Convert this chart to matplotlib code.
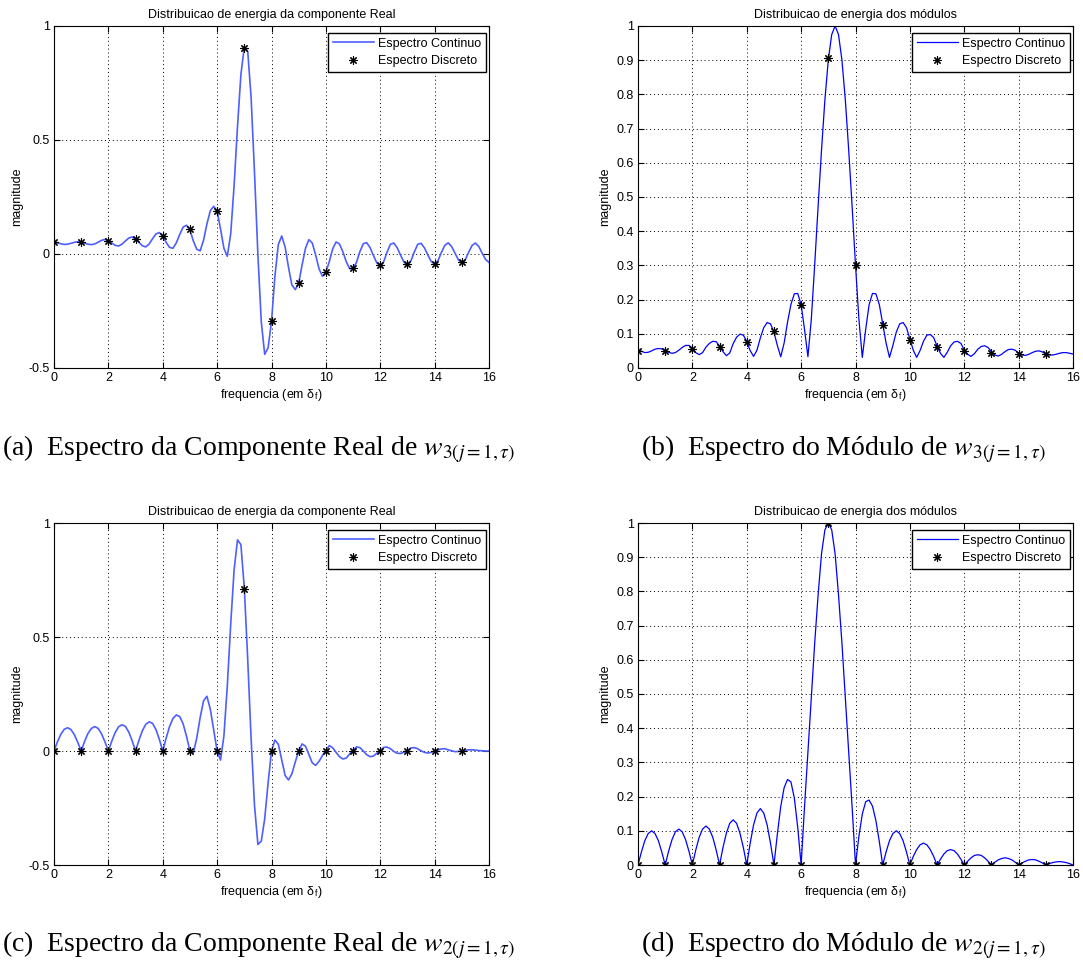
import numpy as np
import matplotlib
matplotlib.use("Agg")
import matplotlib.pyplot as plt

plt.rcParams['font.family'] = ['Liberation Sans', 'DejaVu Sans']
plt.rcParams['mathtext.fontset'] = 'stix'

# frequency grid of the continuous spectra (in units of delta f) and DFT bins
freq = np.arange(0, 16.0001, 0.125)
bins = np.arange(16)

# w3: real component, continuous spectrum
real_w3 = [
    0.051, 0.049, 0.045, 0.042, 0.043, 0.047, 0.051, 0.054,
    0.052, 0.048, 0.043, 0.041, 0.044, 0.052, 0.060, 0.064,
    0.059, 0.048, 0.038, 0.035, 0.043, 0.057, 0.070, 0.075,
    0.065, 0.051, 0.036, 0.031, 0.044, 0.067, 0.088, 0.094,
    0.079, 0.051, 0.029, 0.025, 0.049, 0.086, 0.118, 0.126,
    0.106, 0.057, 0.021, 0.014, 0.060, 0.132, 0.190, 0.209,
    0.188, 0.110, 0.025, -0.010, 0.089, 0.301, 0.560, 0.788,
    0.908, 0.890, 0.686, 0.357, -0.004, -0.299, -0.440, -0.411,
    -0.296, -0.098, 0.041, 0.079, 0.031, -0.058, -0.136, -0.156,
    -0.128, -0.048, 0.025, 0.063, 0.048, -0.005, -0.065, -0.098,
    -0.080, -0.034, 0.022, 0.053, 0.044, 0.010, -0.034, -0.064,
    -0.064, -0.037, 0.010, 0.045, 0.050, 0.028, -0.007, -0.039,
    -0.052, -0.034, 0.008, 0.043, 0.048, 0.027, -0.006, -0.036,
    -0.047, -0.031, 0.008, 0.042, 0.047, 0.027, -0.004, -0.033,
    -0.043, -0.029, 0.007, 0.038, 0.049, 0.033, 0.003, -0.026,
    -0.038, -0.026, 0.007, 0.037, 0.048, 0.033, 0.003, -0.024,
    -0.037,
]
real_w3_dft = [0.051, 0.052, 0.058, 0.064, 0.079, 0.108, 0.188, 0.905,
               -0.296, -0.128, -0.079, -0.061, -0.050, -0.045, -0.042, -0.036]

# w3: modulus, continuous spectrum
mod_w3 = [
    0.053, 0.049, 0.045, 0.046, 0.050, 0.055, 0.057, 0.056,
    0.052, 0.046, 0.043, 0.045, 0.052, 0.060, 0.066, 0.066,
    0.058, 0.045, 0.039, 0.045, 0.061, 0.072, 0.078, 0.077,
    0.064, 0.048, 0.036, 0.044, 0.071, 0.090, 0.099, 0.096,
    0.078, 0.051, 0.034, 0.052, 0.088, 0.118, 0.133, 0.129,
    0.105, 0.066, 0.033, 0.073, 0.134, 0.186, 0.217, 0.218,
    0.185, 0.113, 0.033, 0.143, 0.303, 0.473, 0.637, 0.785,
    0.901, 0.975, 1.000, 0.975, 0.901, 0.785, 0.637, 0.473,
    0.301, 0.143, 0.031, 0.113, 0.185, 0.218, 0.217, 0.186,
    0.130, 0.073, 0.031, 0.066, 0.105, 0.129, 0.133, 0.118,
    0.085, 0.052, 0.031, 0.051, 0.078, 0.096, 0.098, 0.089,
    0.064, 0.043, 0.031, 0.046, 0.065, 0.076, 0.078, 0.072,
    0.053, 0.040, 0.034, 0.042, 0.055, 0.063, 0.065, 0.060,
    0.048, 0.038, 0.035, 0.040, 0.048, 0.054, 0.055, 0.052,
    0.043, 0.038, 0.037, 0.040, 0.045, 0.049, 0.050, 0.047,
    0.041, 0.038, 0.038, 0.040, 0.043, 0.045, 0.045, 0.043,
    0.041,
]
mod_w3_dft = [0.050, 0.050, 0.055, 0.062, 0.077, 0.107, 0.185, 0.905,
              0.300, 0.127, 0.082, 0.062, 0.050, 0.045, 0.040, 0.040]

# w2: real component, continuous spectrum
real_w2 = [
    0.000, 0.040, 0.073, 0.095, 0.102, 0.094, 0.071, 0.038,
    0.000, 0.042, 0.077, 0.099, 0.107, 0.099, 0.075, 0.040,
    0.000, 0.043, 0.081, 0.106, 0.115, 0.108, 0.083, 0.045,
    0.000, 0.047, 0.089, 0.117, 0.128, 0.121, 0.094, 0.051,
    0.000, 0.056, 0.107, 0.143, 0.158, 0.151, 0.119, 0.064,
    0.000, -0.008, 0.056, 0.146, 0.220, 0.240, 0.183, 0.090,
    0.000, -0.040, 0.066, 0.287, 0.557, 0.795, 0.926, 0.905,
    0.714, 0.403, 0.054, -0.239, -0.410, -0.395, -0.297, -0.140,
    0.000, 0.048, 0.030, -0.038, -0.107, -0.127, -0.100, -0.048,
    0.000, 0.031, 0.021, -0.016, -0.052, -0.063, -0.045, -0.020,
    0.002, 0.024, 0.014, -0.006, -0.025, -0.035, -0.031, -0.013,
    0.002, 0.018, 0.015, 0.000, -0.016, -0.025, -0.022, -0.010,
    0.001, 0.016, 0.017, 0.010, -0.002, -0.010, -0.011, -0.005,
    0.002, 0.013, 0.015, 0.010, 0.001, -0.006, -0.009, -0.006,
    0.000, 0.005, 0.009, 0.010, 0.005, 0.001, -0.003, -0.002,
    0.000, 0.003, 0.005, 0.005, 0.004, 0.002, 0.001, 0.000,
    0.000,
]
real_w2_dft = [0, 0, 0, 0, 0, 0, 0, 0.712, 0, 0, 0, 0, 0, 0, 0, 0]

# w2: modulus, continuous spectrum
mod_w2 = [
    0.000, 0.038, 0.071, 0.092, 0.100, 0.092, 0.071, 0.038,
    0.000, 0.040, 0.074, 0.097, 0.105, 0.097, 0.074, 0.040,
    0.000, 0.044, 0.081, 0.105, 0.114, 0.105, 0.081, 0.044,
    0.000, 0.051, 0.093, 0.122, 0.132, 0.122, 0.093, 0.051,
    0.000, 0.063, 0.117, 0.152, 0.165, 0.152, 0.117, 0.063,
    0.000, 0.090, 0.171, 0.226, 0.250, 0.243, 0.196, 0.110,
    0.000, 0.170, 0.330, 0.490, 0.650, 0.790, 0.910, 0.980,
    1.000, 0.980, 0.910, 0.790, 0.650, 0.490, 0.330, 0.170,
    0.000, 0.084, 0.149, 0.185, 0.190, 0.172, 0.130, 0.069,
    0.000, 0.038, 0.071, 0.092, 0.100, 0.092, 0.071, 0.038,
    0.000, 0.025, 0.045, 0.059, 0.064, 0.059, 0.045, 0.025,
    0.000, 0.017, 0.032, 0.042, 0.045, 0.042, 0.032, 0.017,
    0.000, 0.011, 0.021, 0.028, 0.030, 0.028, 0.021, 0.011,
    0.000, 0.008, 0.015, 0.019, 0.021, 0.019, 0.015, 0.008,
    0.000, 0.006, 0.011, 0.015, 0.016, 0.015, 0.011, 0.006,
    0.000, 0.004, 0.007, 0.009, 0.010, 0.009, 0.007, 0.004,
    0.000,
]
mod_w2_dft = [0, 0, 0, 0, 0, 0, 0, 1.0, 0, 0, 0, 0, 0, 0, 0, 0]

title_real = 'Distribuicao de energia da componente Real'
title_mod = 'Distribuicao de energia dos módulos'
captions = [
    r'(a)  Espectro da Componente Real de $w_{3(j=1,\tau)}$',
    r'(b)  Espectro do Módulo de $w_{3(j=1,\tau)}$',
    r'(c)  Espectro da Componente Real de $w_{2(j=1,\tau)}$',
    r'(d)  Espectro do Módulo de $w_{2(j=1,\tau)}$',
]

W, H = 1083, 963
fig = plt.figure(figsize=(W / 100, H / 100), dpi=100)

# matlab-like '*' marker (plus and cross)
ASTERISK = (8, 2, 0)


def panel(left_px, top_px, curve, dft, title, modulus, color, lw):
    ax = fig.add_axes([left_px / W, 1 - (top_px + 342) / H, 435 / W, 342 / H])
    ax.plot(freq, curve, color=color, lw=lw, label='Espectro Continuo')
    ax.plot(bins, dft, ls='none', marker=ASTERISK, ms=6, mec='black',
            mew=0.8, color='black', label='Espectro Discreto')
    ax.set_xlim(0, 16)
    ax.set_xticks(range(0, 17, 2))
    if modulus:
        ax.set_ylim(0, 1)
        yt = np.round(np.arange(0, 1.01, 0.1), 1)
    else:
        ax.set_ylim(-0.5, 1)
        yt = [-0.5, 0, 0.5, 1]
    ax.set_yticks(yt)
    ax.set_yticklabels(['%g' % v for v in yt])
    ax.grid(True, ls=(0, (1, 3)), color='black', lw=0.7)
    ax.tick_params(direction='in', top=True, right=True, length=4,
                   width=0.8, labelsize=9, pad=3)
    for s in ax.spines.values():
        s.set_linewidth(0.8)
    ax.set_title(title, fontsize=9, pad=6)
    ax.set_xlabel('frequencia (em δ$_\\mathregular{f}$)', fontsize=9, labelpad=2)
    ax.set_ylabel('magnitude', fontsize=9, labelpad=4)
    ax.legend(loc='upper right', bbox_to_anchor=(0.993, 0.98), borderaxespad=0,
              fontsize=9, fancybox=False, edgecolor='black', framealpha=1,
              handlelength=3.3, handletextpad=0.3, borderpad=0.4,
              labelspacing=0.45)
    return ax


panel(54, 26, real_w3, real_w3_dft, title_real, False, '#4d5fff', 1.2)
panel(638, 26, mod_w3, mod_w3_dft, title_mod, True, 'blue', 0.9)
panel(54, 523, real_w2, real_w2_dft, title_real, False, '#4d5fff', 1.2)
panel(638, 523, mod_w2, mod_w2_dft, title_mod, True, 'blue', 0.9)

cap_font = dict(family='Liberation Serif', fontsize=20, va='center', ha='left')
fig.text(2 / W, 1 - 449 / H, captions[0], **cap_font)
fig.text(641 / W, 1 - 449 / H, captions[1], **cap_font)
fig.text(2 / W, 1 - 945 / H, captions[2], **cap_font)
fig.text(641 / W, 1 - 945 / H, captions[3], **cap_font)

fig.savefig('out.png', dpi=100)
